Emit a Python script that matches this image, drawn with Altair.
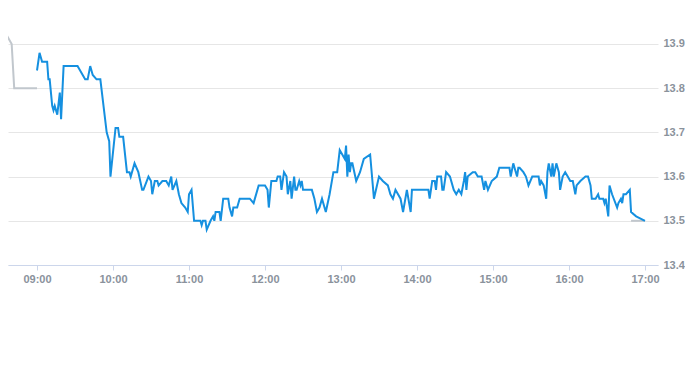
import altair as alt
import pandas as pd

DAY = "2024-01-02T"

# Intraday (blue) series
main_times = [
    "09:00", "09:02", "09:04", "09:08", "09:09", "09:10", "09:12", "09:13", "09:14", "09:16",
    "09:18", "09:19", "09:21", "09:32", "09:38", "09:40", "09:42", "09:44", "09:47", "09:50",
    "09:55", "09:57", "09:58", "10:02", "10:04", "10:05", "10:08", "10:11", "10:13", "10:14",
    "10:17", "10:20", "10:23", "10:24", "10:28", "10:30", "10:31", "10:33", "10:35", "10:36",
    "10:39", "10:42", "10:44", "10:46", "10:47", "10:50", "10:52", "10:54", "10:57", "10:59",
    "11:00", "11:02", "11:04", "11:09", "11:10", "11:11", "11:13", "11:14", "11:17", "11:19",
    "11:20", "11:21", "11:24", "11:25", "11:27", "11:31", "11:32", "11:34", "11:35", "11:38",
    "11:40", "11:48", "11:51", "11:55", "12:00", "12:02", "12:03", "12:05", "12:07", "12:09",
    "12:10", "12:12", "12:13", "12:15", "12:17", "12:18", "12:20", "12:21", "12:23", "12:24",
    "12:25", "12:27", "12:28", "12:29", "12:30", "12:37", "12:39", "12:41", "12:43", "12:45",
    "12:48", "12:51", "12:54", "12:57", "12:59", "13:01", "13:03", "13:04", "13:05", "13:06",
    "13:07", "13:08", "13:09", "13:12", "13:15", "13:18", "13:23", "13:26", "13:30", "13:33",
    "13:37", "13:39", "13:41", "13:43", "13:47", "13:49", "13:52", "13:55", "13:56", "14:09",
    "14:10", "14:12", "14:14", "14:15", "14:16", "14:19", "14:20", "14:21", "14:23", "14:26",
    "14:29", "14:31", "14:33", "14:35", "14:37", "14:38", "14:39", "14:40", "14:44", "14:46",
    "14:48", "14:51", "14:53", "14:54", "14:56", "14:59", "15:03", "15:05", "15:07", "15:13",
    "15:14", "15:16", "15:17", "15:19", "15:20", "15:21", "15:24", "15:26", "15:28", "15:31",
    "15:36", "15:37", "15:38", "15:40", "15:42", "15:43", "15:44", "15:46", "15:47", "15:48",
    "15:50", "15:51", "15:52", "15:53", "15:55", "15:57", "15:59", "16:01", "16:03", "16:05",
    "16:06", "16:09", "16:13", "16:15", "16:17", "16:18", "16:21", "16:23", "16:24", "16:27",
    "16:28", "16:29", "16:30", "16:31", "16:32", "16:34", "16:38", "16:39", "16:41", "16:42",
    "16:43", "16:45", "16:48", "16:49", "16:53", "17:00",
]
main_prices = [
    13.84, 13.88, 13.86, 13.86, 13.82, 13.82, 13.76, 13.75, 13.76, 13.74,
    13.79, 13.73, 13.85, 13.85, 13.82, 13.82, 13.85, 13.83, 13.82, 13.82,
    13.70, 13.68, 13.60, 13.71, 13.71, 13.69, 13.69, 13.61, 13.61, 13.60,
    13.63, 13.61, 13.57, 13.57, 13.60, 13.59, 13.56, 13.59, 13.59, 13.58,
    13.59, 13.59, 13.58, 13.60, 13.57, 13.59, 13.56, 13.54, 13.53, 13.52,
    13.56, 13.57, 13.50, 13.50, 13.49, 13.50, 13.50, 13.48, 13.50, 13.51,
    13.50, 13.52, 13.52, 13.50, 13.55, 13.55, 13.53, 13.51, 13.53, 13.53,
    13.55, 13.55, 13.54, 13.58, 13.58, 13.57, 13.53, 13.59, 13.59, 13.59,
    13.60, 13.60, 13.57, 13.61, 13.60, 13.56, 13.59, 13.55, 13.60, 13.57,
    13.57, 13.59, 13.58, 13.59, 13.57, 13.57, 13.55, 13.52, 13.53, 13.55,
    13.52, 13.56, 13.61, 13.61, 13.66, 13.65, 13.64, 13.67, 13.60, 13.65,
    13.61, 13.63, 13.63, 13.59, 13.61, 13.64, 13.65, 13.55, 13.60, 13.59,
    13.58, 13.56, 13.55, 13.57, 13.55, 13.52, 13.57, 13.52, 13.57, 13.57,
    13.55, 13.59, 13.59, 13.57, 13.60, 13.60, 13.57, 13.57, 13.61, 13.60,
    13.57, 13.56, 13.57, 13.56, 13.59, 13.61, 13.57, 13.60, 13.61, 13.61,
    13.60, 13.60, 13.57, 13.59, 13.57, 13.59, 13.60, 13.62, 13.62, 13.62,
    13.60, 13.63, 13.62, 13.60, 13.62, 13.62, 13.61, 13.60, 13.58, 13.60,
    13.60, 13.58, 13.59, 13.58, 13.55, 13.61, 13.63, 13.60, 13.63, 13.60,
    13.63, 13.62, 13.61, 13.57, 13.60, 13.61, 13.60, 13.59, 13.59, 13.56,
    13.58, 13.59, 13.60, 13.60, 13.58, 13.55, 13.55, 13.56, 13.55, 13.55,
    13.54, 13.55, 13.53, 13.51, 13.58, 13.56, 13.53, 13.54, 13.55, 13.54,
    13.56, 13.56, 13.57, 13.52, 13.51, 13.50,
]

# Pre-market and after-hours (grey) series
pre_times = ["08:30", "08:40", "08:42", "09:00"]
pre_prices = [13.95, 13.90, 13.80, 13.80]
post_times = ["16:49", "17:00"]
post_prices = [13.50, 13.50]

hour_ticks = [9, 10, 11, 12, 13, 14, 15, 16, 17]
y_ticks = [13.4, 13.5, 13.6, 13.7, 13.8, 13.9]

main_df = pd.DataFrame({"t": [DAY + t for t in main_times], "p": main_prices})
grey_df = pd.DataFrame({
    "t": [DAY + t for t in pre_times] + [DAY + t for t in post_times],
    "p": pre_prices + post_prices,
    "seg": ["pre"] * len(pre_times) + ["post"] * len(post_times),
})

x_scale = alt.Scale(
    domain=[
        alt.DateTime(year=2024, month=1, date=2, hours=8, minutes=37, seconds=6),
        alt.DateTime(year=2024, month=1, date=2, hours=17, minutes=10, seconds=16),
    ]
)
y_scale = alt.Scale(domain=[13.4, 13.9814], zero=False, nice=False)

x_axis = alt.Axis(
    values=[alt.DateTime(year=2024, month=1, date=2, hours=h) for h in hour_ticks],
    format="%H:%M",
    title=None,
    grid=False,
    domainColor="#ccd6eb",
    tickColor="#ccd6eb",
    tickSize=5,
    labelPadding=3,
    labelColor="#8a929c",
    labelFontSize=11,
    labelFontWeight="bold",
    labelFont="Liberation Sans",
)
y_axis = alt.Axis(
    values=y_ticks,
    format=".1f",
    orient="right",
    title=None,
    domain=False,
    ticks=False,
    tickSize=0,
    labelPadding=5,
    gridColor="#e6e6e6",
    labelColor="#8a929c",
    labelFontSize=11,
    labelFontWeight="bold",
    labelFont="Liberation Sans",
    labelAlign="left",
)

grey = alt.Chart(grey_df).mark_line(color="#c1c7cd", strokeWidth=2, clip=True).encode(
    x=alt.X("t:T", scale=x_scale, axis=x_axis),
    y=alt.Y("p:Q", scale=y_scale, axis=y_axis),
    detail="seg:N",
)
blue = alt.Chart(main_df).mark_line(color="#1590e0", strokeWidth=2, clip=True).encode(
    x=alt.X("t:T", scale=x_scale),
    y=alt.Y("p:Q", scale=y_scale),
)

chart = (
    alt.layer(grey, blue)
    .properties(width=650, height=257, padding=0, background="white")
    .configure_view(stroke=None)
)

chart.save("out.html", embed_options={"renderer": "svg", "actions": False})
